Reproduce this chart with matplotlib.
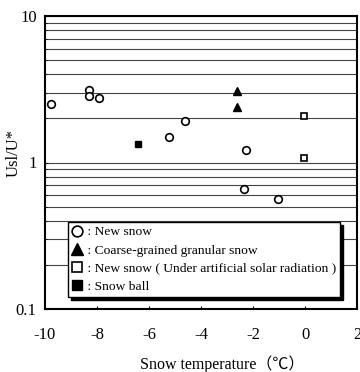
import matplotlib
matplotlib.use("Agg")
import matplotlib.pyplot as plt
from matplotlib.ticker import FixedLocator, FixedFormatter, LogLocator, NullFormatter
import numpy as np

plt.rcParams['font.family'] = ['Liberation Serif', 'Noto Sans CJK JP', 'DejaVu Sans']

# Data
new_snow_x = [-9.78, -8.31, -8.31, -7.91, -5.23, -4.63, -2.26, -2.36, -1.05]
new_snow_y = [2.50, 3.13, 2.83, 2.75, 1.49, 1.92, 1.22, 0.66, 0.56]
coarse_x = [-2.63, -2.63]
coarse_y = [3.10, 2.38]
solar_x = [-0.03, -0.03]
solar_y = [2.07, 1.07]
ball_x = [-6.41]
ball_y = [1.34]

labels = [" : New snow",
          " : Coarse-grained granular snow",
          " : New snow ( Under artificial solar radiation )",
          " : Snow ball"]

xticks = [-10, -8, -6, -4, -2, 0, 2]
yticks = [0.1, 1, 10]
ytick_labels = ["0.1", "1", "10"]

fig = plt.figure(figsize=(3.6, 3.72), dpi=100)
ax = fig.add_axes([45/360, 1-309/372, 312/360, 293/372])

ms = 5.5
h1, = ax.plot(new_snow_x, new_snow_y, 'o', ms=ms, mfc='white', mec='black', mew=1.2, ls='none')
h2, = ax.plot(coarse_x, coarse_y, '^', ms=ms+0.5, mfc='black', mec='black', ls='none')
h3, = ax.plot(solar_x, solar_y, 's', ms=ms-0.5, mfc='white', mec='black', mew=1.2, ls='none')
h4, = ax.plot(ball_x, ball_y, 's', ms=ms-0.5, mfc='black', mec='black', ls='none')

ax.set_yscale('log')
ax.set_xlim(-10, 2)
ax.set_ylim(0.1, 10)

ax.yaxis.set_major_locator(FixedLocator(yticks))
ax.yaxis.set_major_formatter(FixedFormatter(ytick_labels))
ax.yaxis.set_minor_locator(LogLocator(base=10, subs=np.arange(2, 10)))
ax.yaxis.set_minor_formatter(NullFormatter())
ax.set_xticks(xticks)
ax.set_xticklabels([str(v) for v in xticks])

ax.grid(True, which='both', axis='y', color='#444444', lw=0.8)
ax.set_axisbelow(True)
ax.tick_params(axis='both', which='major', labelsize=12, direction='in', length=2)
ax.tick_params(axis='y', which='minor', direction='in', length=1.5)
ax.tick_params(axis='x', pad=13)
ax.tick_params(axis='y', pad=6)
for s in ax.spines.values():
    s.set_linewidth(1.5)

ax.set_xlabel("Snow temperature（℃）", fontsize=11.5)
ax.xaxis.set_label_coords((222-45)/312, -(355-309)/293)
ax.set_ylabel("Usl/U*", fontsize=12)
ax.yaxis.set_label_coords(-(45-22)/312, (309-153)/293)

leg = ax.legend([h1, h2, h3, h4], labels, loc='upper left',
                bbox_to_anchor=((68-45)/312, (309-222)/293), borderaxespad=0,
                fontsize=9.7, frameon=True, fancybox=False,
                shadow={'color': 'black', 'alpha': 1},
                handlelength=0.8, handletextpad=0.1, labelspacing=0.42,
                borderpad=0.3, markerscale=1.4, framealpha=1)
leg.get_frame().set_edgecolor('black')
leg.get_frame().set_linewidth(1.0)

fig.savefig("out.png", dpi=100)
